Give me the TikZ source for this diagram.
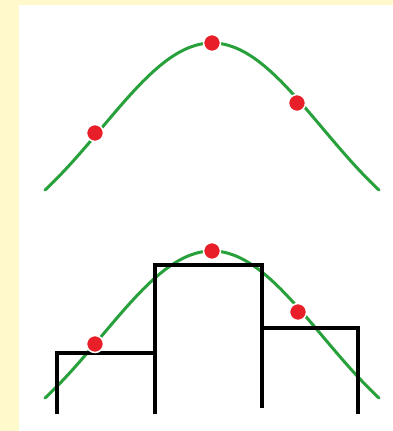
\documentclass[tikz,border=0pt]{standalone}
\begin{document}
\begin{tikzpicture}[x=1pt,y=-1pt,
  curve/.style={draw=curvegreen,line width=3pt,line cap=round},
  bar/.style={draw=black,line width=4pt,line join=miter},
  dot/.style={circle,fill=dotred,draw=white,line width=1.5pt,minimum size=17pt,inner sep=0pt}]
\definecolor{curvegreen}{RGB}{40,160,60}
\definecolor{dotred}{RGB}{232,30,40}
\definecolor{bgyellow}{RGB}{255,249,204}
\useasboundingbox (0,0) rectangle (393,431);
\fill[bgyellow] (0,0) rectangle (393,431);
\fill[white] (19,5) rectangle (393,431);
% top curve
\draw[curve] plot[domain=-167:167,samples=90] ({212+\x},{190-(215*exp(-0.5*(\x/110)^2)-68)});
\node[dot] (t1) at (95,133) {};
\node[dot] (t2) at (212,43) {};
\node[dot] (t3) at (297,103) {};
% bottom curve
\draw[curve] plot[domain=-167:167,samples=90] ({212+\x},{398-(215*exp(-0.5*(\x/110)^2)-68)});
% bars
\draw[bar] (57,414) -- (57,353) -- (155,353);
\draw[bar] (155,414) -- (155,265) -- (262,265) -- (262,408);
\draw[bar] (262,328) -- (358,328) -- (358,414);
\node[dot] (b1) at (95,344) {};
\node[dot] (b2) at (212,251) {};
\node[dot] (b3) at (298,312) {};
\end{tikzpicture}
\end{document}
